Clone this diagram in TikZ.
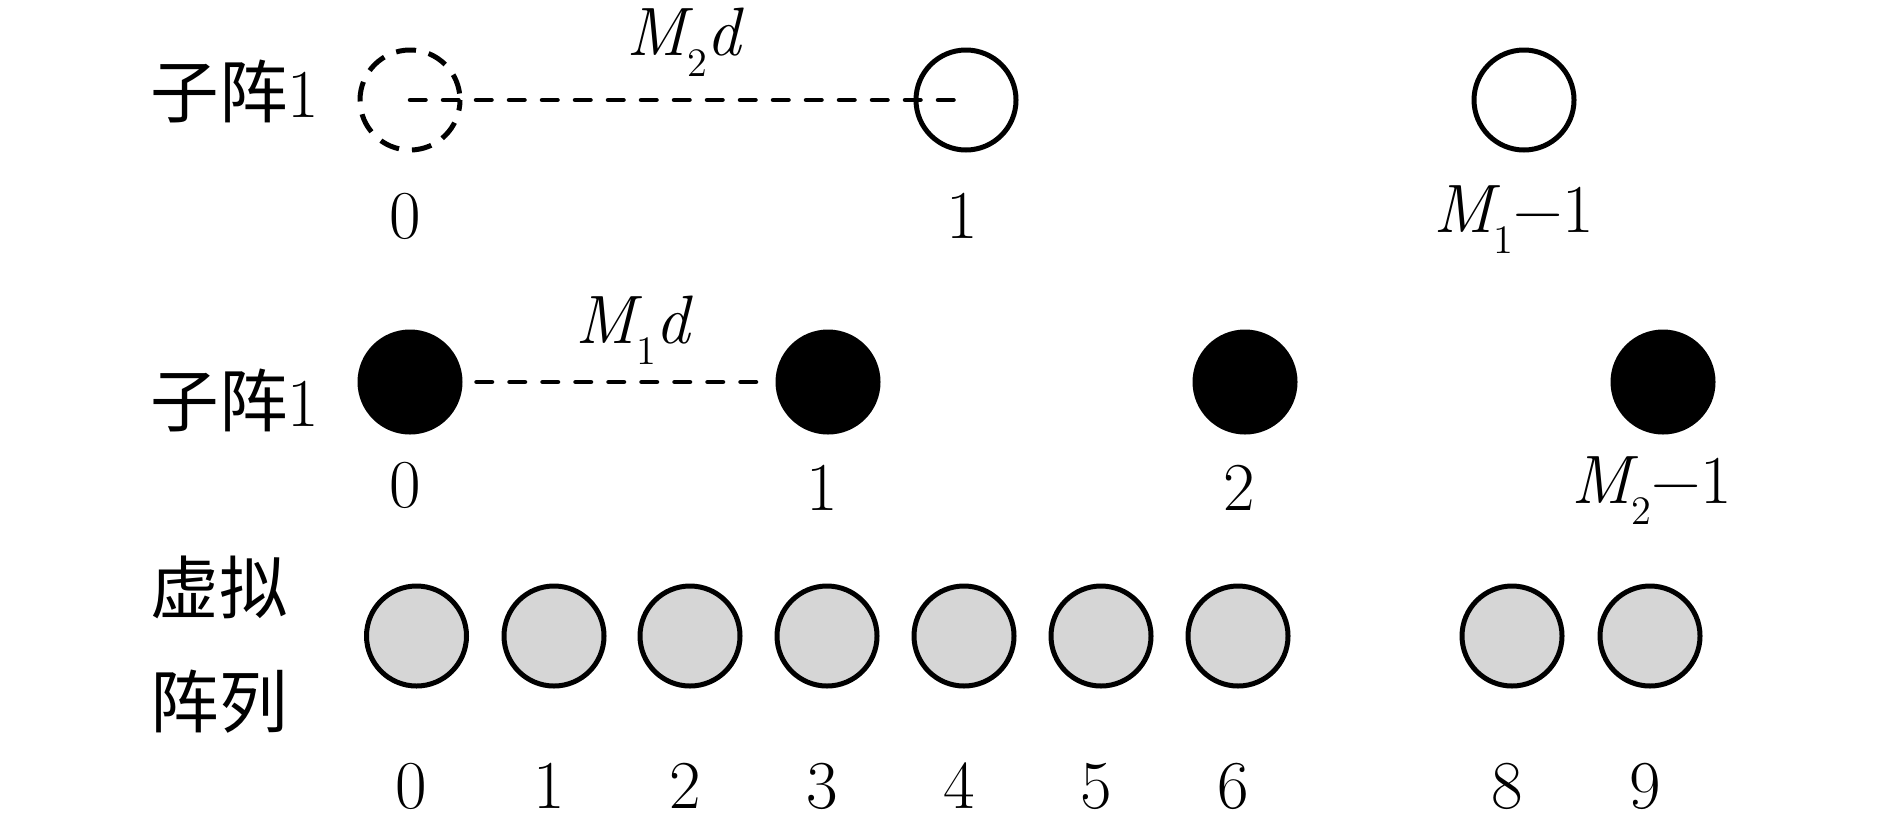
\documentclass[tikz,border=0pt]{standalone}
\usepackage{fontspec}
\newfontfamily\cjk{Noto Sans CJK SC}
\newcommand\msub[2]{{\itshape #1}\raisebox{-0.32em}{\fontsize{11.5}{12}\selectfont #2}}
\definecolor{vgray}{RGB}{214,214,214}
\begin{document}
\begin{tikzpicture}[x=0.1mm,y=-0.1mm,
  elem/.style={circle, inner sep=0pt, minimum size=10mm, line width=0.5mm},
  hollow/.style={elem, draw=black},
  ghost/.style={elem, draw=black, dash pattern=on 2mm off 1.3mm, dash phase=2.65mm},
  solid/.style={elem, draw=black, fill=black},
  virt/.style={elem, draw=black, fill=vgray},
  lab/.style={anchor=base, inner sep=0pt, font=\fontsize{19.5}{22}\selectfont},
  rowlab/.style={lab, anchor=base west},
  link/.style={line width=0.45mm, line cap=round, dash pattern=on 1.55mm off 1.75mm}]
\useasboundingbox (0,0) rectangle (1890,833);

% row 1
\node[rowlab] (r1) at (150,117) {{\cjk 子阵}1};
\node[ghost]  (a0) at (410,100) {};
\node[hollow] (a1) at (966,100) {};
\node[hollow] (a2) at (1524,100) {};
\draw[link] (a0.center) -- (a1.center);
\node[lab] (ma) at (684,55) {\msub{M}{2}{\itshape d}};
\node[lab] (la0) at (405,238) {0};
\node[lab] (la1) at (962,238) {1};
\node[lab] (la2) at (1514,232) {\msub{M}{1}−1};

% row 2
\node[rowlab] (r2) at (150,426) {{\cjk 子阵}1};
\node[solid] (b0) at (410,382) {};
\node[solid] (b1) at (828,382) {};
\node[solid] (b2) at (1245,382) {};
\node[solid] (b3) at (1663,382) {};
\draw[link, shorten <=1.4mm, shorten >=1.4mm] (b0) -- (b1);
\node[lab] (mb) at (633,343) {\msub{M}{1}{\itshape d}};
\node[lab] (lb0) at (405,507) {0};
\node[lab] (lb1) at (822,510) {1};
\node[lab] (lb2) at (1239,510) {2};
\node[lab] (lb3) at (1652,503) {\msub{M}{2}−1};

% row 3
\node[rowlab] (r3a) at (150,613) {\cjk 虚拟};
\node[rowlab] (r3b) at (150,727) {\cjk 阵列};
\foreach \x/\t [count=\i] in {416.5/0,554/1,690/2,827/3,964/4,1101/5,1238/6,1512/8,1650/9}{
  \node[virt] (c\i) at (\x,636) {};
  \node[lab] (lc\i) at (\x-5,808) {\t};
}
\end{tikzpicture}
\end{document}
